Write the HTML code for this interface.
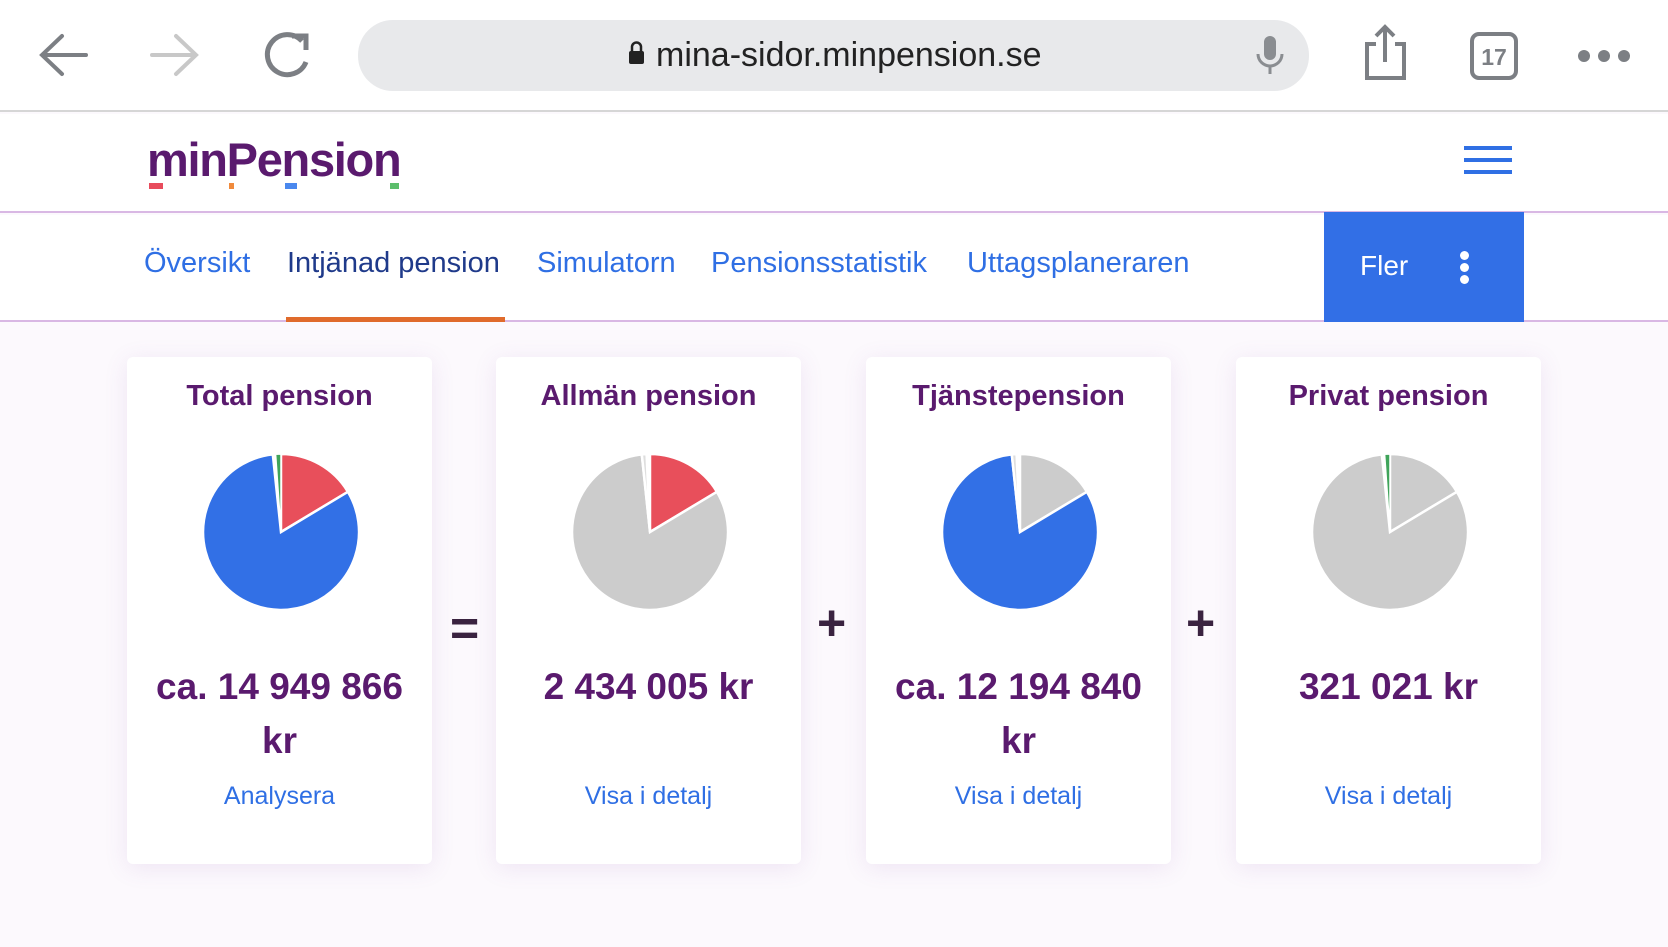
<!DOCTYPE html>
<html><head><meta charset="utf-8"><style>
*{margin:0;padding:0;box-sizing:border-box}
body{width:1668px;height:947px;overflow:hidden;background:#fcf9fd;font-family:"Liberation Sans",sans-serif;position:relative}
.abs{position:absolute}
.card{position:absolute;top:357px;width:305px;height:507px;background:#fff;border-radius:6px;box-shadow:0 4px 24px rgba(140,80,170,0.12);text-align:center;color:#5a1a6e}
.t{position:absolute;left:0;width:100%;top:23px;font-size:29px;font-weight:bold}
.amt{position:absolute;left:0;width:100%;top:303px;font-size:37px;font-weight:bold;line-height:54px;letter-spacing:0px}
.lnk{position:absolute;left:0;width:100%;top:425px;font-size:25px;color:#2f6fe4}
.pie{position:absolute;left:74px;top:95px}
.op{position:absolute;color:#3a2340;font-weight:bold;font-size:50px;line-height:50px}
.nav a{position:absolute;top:247px;font-size:29px;color:#2f6fe4;text-decoration:none}
</style></head><body>
<div class="abs" style="left:0;top:0;width:1668px;height:112px;background:#fff;border-bottom:2px solid #d6d6d6"></div>
<svg class="abs" style="left:0;top:0" width="1668" height="112">
<g stroke="#7c7f84" stroke-width="4" fill="none" stroke-linecap="round">
<path d="M86 55H44M62 36L42 55L62 74"/>
</g>
<g stroke="#c8c8c8" stroke-width="4" fill="none" stroke-linecap="round"><path d="M152 55H194M176 36L196 55L176 74"/></g>
<path d="M302 41A20 20 0 1 0 306 62" stroke="#7c7f84" stroke-width="5" fill="none"/>
<path d="M292 36H306V50" stroke="#7c7f84" stroke-width="5" fill="none"/>
<rect x="358" y="20" width="951" height="71" rx="35" fill="#e8e9eb"/>
<rect x="629" y="51" width="15" height="13" rx="2" fill="#222"/>
<path d="M632 52V47A4.5 4.5 0 0 1 641 47V52" stroke="#222" stroke-width="2.5" fill="none"/>
<text x="656" y="66" font-size="34" fill="#222" font-family="Liberation Sans">mina-sidor.minpension.se</text>
<rect x="1264" y="36" width="12" height="24" rx="6" fill="#8a8d91"/>
<path d="M1258 54A12 12 0 0 0 1282 54M1270 66V74" stroke="#8a8d91" stroke-width="3" fill="none"/>
<path d="M1376 44H1367V78H1404V44H1395M1385 62V28M1376 36L1385 27L1394 36" stroke="#7c7f84" stroke-width="4" fill="none"/>
<rect x="1472" y="34" width="44" height="44" rx="7" stroke="#7c7f84" stroke-width="4" fill="none"/>
<text x="1494" y="65" font-size="23" font-weight="bold" fill="#7c7f84" text-anchor="middle" font-family="Liberation Sans">17</text>
<circle cx="1584" cy="56" r="6" fill="#7c7f84"/><circle cx="1604" cy="56" r="6" fill="#7c7f84"/><circle cx="1624" cy="56" r="6" fill="#7c7f84"/>
</svg>
<div class="abs" style="left:0;top:114px;width:1668px;height:99px;background:#fff;border-bottom:2px solid #d9b8e4"></div>
<div class="abs" style="left:147px;top:132px;font-size:47px;font-weight:bold;color:#5a1a6e;letter-spacing:-1.3px">minPension</div>
<div class="abs" style="left:149px;top:183px;width:14px;height:6px;background:#e84c5c"></div>
<div class="abs" style="left:229px;top:183px;width:5px;height:6px;background:#f08a3c"></div>
<div class="abs" style="left:285px;top:183px;width:12px;height:6px;background:#4a88ee"></div>
<div class="abs" style="left:390px;top:183px;width:9px;height:6px;background:#5cbe6c"></div>
<div class="abs" style="left:1464px;top:146px;width:48px;height:4px;background:#2f6fe4"></div>
<div class="abs" style="left:1464px;top:158px;width:48px;height:4px;background:#2f6fe4"></div>
<div class="abs" style="left:1464px;top:170px;width:48px;height:4px;background:#2f6fe4"></div>
<div class="abs" style="left:0;top:215px;width:1668px;height:107px;background:#fff;border-bottom:2px solid #d9b8e4"></div>
<div class="nav">
<a style="left:144px">Översikt</a>
<a style="left:287px;color:#1f3a8a">Intjänad pension</a>
<a style="left:537px">Simulatorn</a>
<a style="left:711px">Pensionsstatistik</a>
<a style="left:967px">Uttagsplaneraren</a>
</div>
<div class="abs" style="left:286px;top:317px;width:219px;height:5px;background:#e06b2c"></div>
<div class="abs" style="left:1324px;top:212px;width:200px;height:110px;background:#326fe6"></div>
<div class="abs" style="left:1360px;top:250px;font-size:28px;color:#fff">Fler</div>
<div class="abs" style="left:1460px;top:251px;width:9px;height:9px;border-radius:50%;background:#fff"></div>
<div class="abs" style="left:1460px;top:263px;width:9px;height:9px;border-radius:50%;background:#fff"></div>
<div class="abs" style="left:1460px;top:275px;width:9px;height:9px;border-radius:50%;background:#fff"></div>

<div class="card" style="left:127px">
<div class="t">Total pension</div>
<svg class="pie" width="160" height="160" viewBox="-80 -80 160 160"><g stroke="#fff" stroke-width="2.5">
<path d="M0 0L0 -78A78 78 0 0 1 66.9 -40.2Z" fill="#e84f5b"/>
<path d="M0 0L66.9 -40.2A78 78 0 1 1 -8.2 -77.6Z" fill="#3270e6"/>
<path d="M0 0L-5.4 -77.8A78 78 0 0 1 0 -78Z" fill="#3fa45a" stroke-width="1.5"/></g></svg>
<div class="amt">ca. 14 949 866<br>kr</div>
<div class="lnk">Analysera</div>
</div>
<div class="op" style="left:450px;top:603px">=</div>
<div class="card" style="left:496px">
<div class="t">Allmän pension</div>
<svg class="pie" width="160" height="160" viewBox="-80 -80 160 160"><g stroke="#fff" stroke-width="2.5">
<path d="M0 0L0 -78A78 78 0 0 1 66.9 -40.2Z" fill="#e84f5b"/>
<path d="M0 0L66.9 -40.2A78 78 0 1 1 -8.2 -77.6Z" fill="#cccccc"/>
<path d="M0 0L-8.2 -77.6A78 78 0 0 1 -3.4 -77.9Z" fill="#dedede"/></g></svg>
<div class="amt">2 434 005 kr</div>
<div class="lnk">Visa i detalj</div>
</div>
<div class="op" style="left:817px;top:598px">+</div>
<div class="card" style="left:866px">
<div class="t">Tjänstepension</div>
<svg class="pie" width="160" height="160" viewBox="-80 -80 160 160"><g stroke="#fff" stroke-width="2.5">
<path d="M0 0L0 -78A78 78 0 0 1 66.9 -40.2Z" fill="#cccccc"/>
<path d="M0 0L66.9 -40.2A78 78 0 1 1 -8.2 -77.6Z" fill="#3270e6"/>
<path d="M0 0L-8.2 -77.6A78 78 0 0 1 -3.4 -77.9Z" fill="#dedede"/></g></svg>
<div class="amt">ca. 12 194 840<br>kr</div>
<div class="lnk">Visa i detalj</div>
</div>
<div class="op" style="left:1186px;top:598px">+</div>
<div class="card" style="left:1236px">
<div class="t">Privat pension</div>
<svg class="pie" width="160" height="160" viewBox="-80 -80 160 160"><g stroke="#fff" stroke-width="2.5">
<path d="M0 0L0 -78A78 78 0 0 1 66.9 -40.2Z" fill="#cccccc"/>
<path d="M0 0L66.9 -40.2A78 78 0 1 1 -8.2 -77.6Z" fill="#cccccc"/>
<path d="M0 0L-5.4 -77.8A78 78 0 0 1 0 -78Z" fill="#3fa45a" stroke-width="1.5"/></g></svg>
<div class="amt">321 021 kr</div>
<div class="lnk">Visa i detalj</div>
</div>
</body></html>
